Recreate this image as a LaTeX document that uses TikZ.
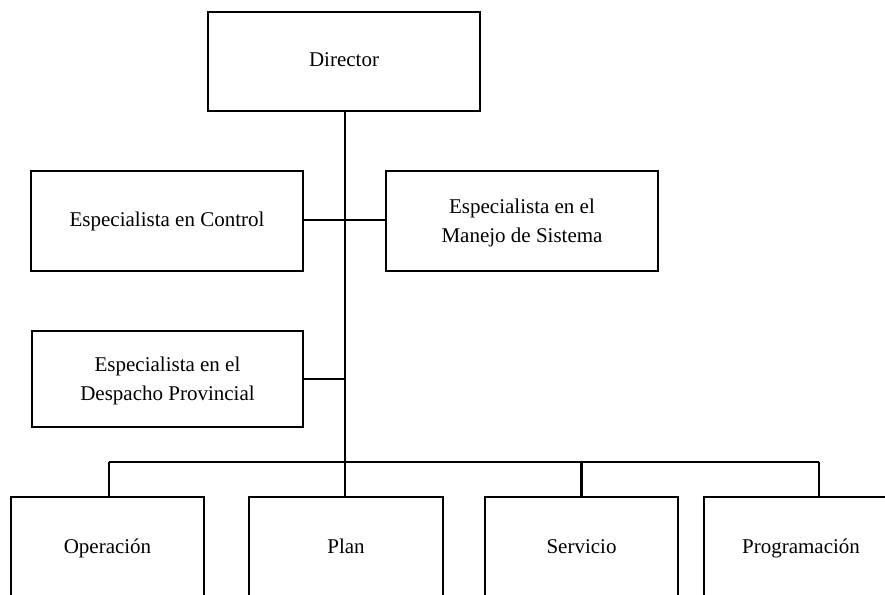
\documentclass[tikz,border=0pt]{standalone}
\usepackage{fontspec}
\setmainfont{Liberation Serif}
\begin{document}
\begin{tikzpicture}[x=1pt,y=-1pt,
  box/.style={draw=black,line width=2.3pt,fill=white,inner sep=0pt,align=center,
    font=\fontsize{21}{29}\selectfont},
  single/.style={text height=14pt,text depth=4pt},
  multi/.style={text depth=0pt},
  wire/.style={draw=black,line width=2.3pt}]
\useasboundingbox (0,0) rectangle (885,594);
\clip (0,0) rectangle (885,594);
% nodes
\node[box,single,minimum width=272pt,minimum height=99pt] (dir) at (344,61.5) {Director};
\node[box,single,minimum width=272pt,minimum height=100pt] (ctrl) at (167,221) {Especialista en Control};
\node[box,multi,minimum width=272pt,minimum height=100pt] (man) at (522,221) {Especialista en el\\Manejo de Sistema};
\node[box,multi,minimum width=271pt,minimum height=96pt] (desp) at (167.5,379) {Especialista en el\\Despacho Provincial};
\node[box,single,minimum width=193pt,minimum height=102pt] (op) at (107.5,548) {Operación};
\node[box,single,minimum width=194pt,minimum height=102pt] (plan) at (346,548) {Plan};
\node[box,single,minimum width=193pt,minimum height=102pt] (serv) at (581.5,548) {Servicio};
\node[box,single,minimum width=194pt,minimum height=102pt] (prog) at (801,548) {Programación};
% coordinates
\coordinate (busc) at (345,462);
\coordinate (busl) at (109,462);
\coordinate (busr) at (819,462);
\coordinate (tctrl) at (345,220);
\coordinate (tdesp) at (345,379);
% connectors
\draw[wire] (dir.south -| busc) -- (busc);
\draw[wire] (ctrl.east |- tctrl) -- (man.west |- tctrl);
\draw[wire] (desp.east |- tdesp) -- (tdesp);
\draw[wire] (busl) -- (busr);
\draw[wire] (busl) -- (busl |- op.north);
\draw[wire] (busc) -- (busc |- plan.north);
\draw[wire] (serv.north |- busc) -- (serv.north);
\draw[wire] (busr) -- (busr |- prog.north);
\end{tikzpicture}
\end{document}
